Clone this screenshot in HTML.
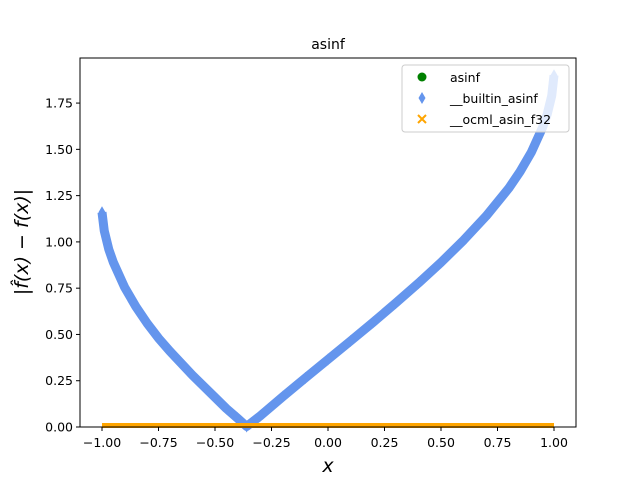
<!DOCTYPE html>
<html><head><meta charset="utf-8"><style>
body{margin:0;background:#fff}
svg text{font-family:"DejaVu Sans","Liberation Sans",sans-serif;fill:#000}
</style></head><body>
<svg id="c" width="640" height="480" viewBox="0 0 640 480">
<rect width="640" height="480" fill="#fff"/>
<text x="328" y="49" text-anchor="middle" font-size="14">asinf</text>
<g id="plot"></g>
<rect x="80" y="58" width="496" height="369" fill="none" stroke="#000" stroke-width="1"/>
<g id="ticks"></g>
<text x="328" y="472" text-anchor="middle" font-size="19" font-style="italic" font-family="DejaVu Serif,serif">x</text>
<text transform="translate(28,242) rotate(-90)" text-anchor="middle" font-size="19" font-style="italic" font-family="DejaVu Serif,serif">|f̂(x) − f(x)|</text>
<g>
<rect x="402" y="65" width="167" height="67" rx="3" fill="#fff" fill-opacity="0.8" stroke="#ccc"/>
<circle cx="422" cy="77" r="4.5" fill="green"/>
<text x="450" y="82" font-size="12.5">asinf</text>
<path d="M422,92 l3.5,6 l-3.5,6 l-3.5,-6z" fill="#6495ed"/>
<text x="450" y="103" font-size="12.5">__builtin_asinf</text>
<path d="M418,115 l8,8 M426,115 l-8,8" stroke="orange" stroke-width="2"/>
<text x="450" y="124" font-size="12.5">__ocml_asin_f32</text>
</g>
</svg>
<script>
const builtinX=[-1.0,-0.99,-0.97,-0.95,-0.9,-0.85,-0.8,-0.75,-0.7,-0.6,-0.5,-0.45,-0.4,-0.36,-0.3,-0.2,-0.1,0,0.1,0.2,0.3,0.4,0.5,0.6,0.7,0.8,0.85,0.9,0.95,0.97,0.99,1.0];
const builtinY=[1.16,1.06,0.96,0.89,0.755,0.65,0.56,0.48,0.41,0.28,0.16,0.10,0.047,0.003,0.06,0.164,0.265,0.365,0.465,0.566,0.67,0.777,0.889,1.009,1.14,1.29,1.38,1.485,1.62,1.69,1.79,1.90];
const flatX=[-1.0,-0.5,0,0.5,1.0];
const asinfY=[0,0,0,0,0];
const ocmlY=[0,0,0,0,0];
const xTicks=[-1.0,-0.75,-0.5,-0.25,0,0.25,0.5,0.75,1.0];
const xTickLabels=["−1.00","−0.75","−0.50","−0.25","0.00","0.25","0.50","0.75","1.00"];
const yTicks=[0,0.25,0.5,0.75,1.0,1.25,1.5,1.75];
const yTickLabels=["0.00","0.25","0.50","0.75","1.00","1.25","1.50","1.75"];
const NS="http://www.w3.org/2000/svg";
const sx=v=>328+226*v, sy=v=>427-185.1*v;
const plot=document.getElementById('plot'), ticks=document.getElementById('ticks');
function mk(t,a,p){const e=document.createElementNS(NS,t);for(const k in a)e.setAttribute(k,a[k]);p.appendChild(e);return e;}
let d=flatX.map((x,i)=>(i?'L':'M')+sx(x)+','+(sy(asinfY[i])-2)).join('');
let g=mk('path',{d:d,stroke:'green','stroke-width':4,fill:'none'},plot);


d=builtinX.map((x,i)=>(i?'L':'M')+sx(x)+','+sy(builtinY[i])).join('');
let b=mk('path',{d:d,stroke:'#6495ed','stroke-width':9,fill:'none','stroke-linejoin':'round'},plot);


builtinX.forEach((x,i)=>{const cx=sx(x),cy=sy(builtinY[i]);
 const m=mk('path',{d:`M${cx},${cy-6} l3.5,6 l-3.5,6 l-3.5,-6z`,fill:'#6495ed'},plot);
 
 });
d=flatX.map((x,i)=>(i?'L':'M')+sx(x)+','+(sy(ocmlY[i])-1.5)).join('');
let o=mk('path',{d:d,stroke:'orange','stroke-width':5,fill:'none'},plot);


xTicks.forEach((v,i)=>{const x=sx(v);
 mk('line',{x1:x,x2:x,y1:427,y2:431,stroke:'#000'},ticks);
 const t=mk('text',{x:x,y:447,'text-anchor':'middle','font-size':12.5},ticks);t.textContent=xTickLabels[i];
 
 });
yTicks.forEach((v,i)=>{const y=sy(v);
 mk('line',{x1:76,x2:80,y1:y,y2:y,stroke:'#000'},ticks);
 const t=mk('text',{x:73,y:y+4.5,'text-anchor':'end','font-size':12.5},ticks);t.textContent=yTickLabels[i];
 
 });
</script>
</body></html>
